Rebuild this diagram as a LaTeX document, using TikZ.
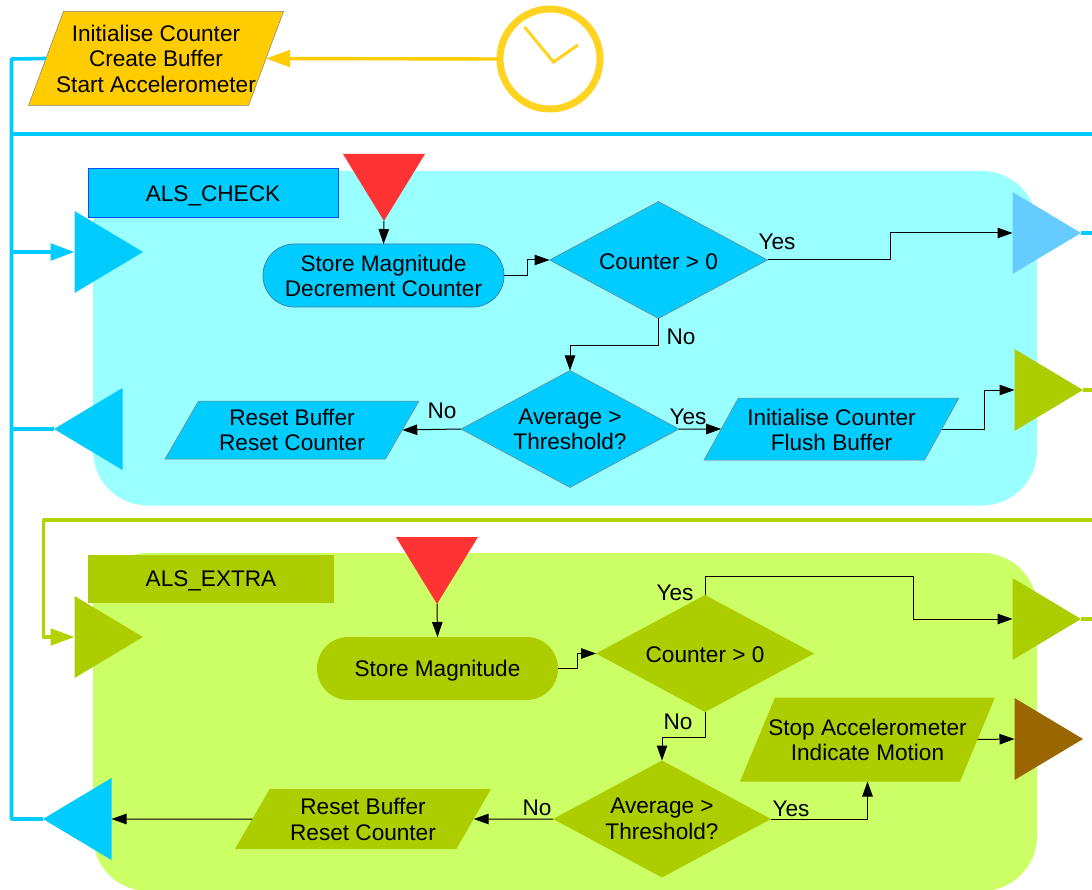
\documentclass[tikz,border=0pt]{standalone}
\usepackage{fontspec}
\setmainfont{Liberation Sans}
\usetikzlibrary{shapes.geometric,arrows.meta}
\definecolor{cblue}{HTML}{00CCFF}
\definecolor{cgreen}{HTML}{ACCE00}
\definecolor{cline}{HTML}{B4D200}
\definecolor{cgold}{HTML}{FFCC00}
\definecolor{cclock}{HTML}{FFD320}
\definecolor{cred}{HTML}{FF3333}
\definecolor{csky}{HTML}{99FFFF}
\definecolor{clime}{HTML}{CCFF66}
\definecolor{cpale}{HTML}{66CCFF}
\definecolor{cbrown}{HTML}{996600}
\definecolor{cpillline}{HTML}{3A7CA5}
\newcommand\tl[2][2pt]{\raisebox{-#1}[\height][\depth]{\begin{tabular}{@{}c@{}}#2\end{tabular}}}
\tikzset{
  x=1pt,y=-1pt,
  every node/.style={font=\fontsize{22.6}{25.4}\selectfont,inner sep=0pt,outer sep=0pt,align=center,text=black},
  region/.style={rounded corners=55pt},
  tri/.style={isosceles triangle,isosceles triangle stretches,minimum width=82pt,minimum height=68.5pt,anchor=apex},
  triR/.style={tri,shape border rotate=0},
  triL/.style={tri,shape border rotate=180},
  triD/.style={tri,shape border rotate=-90,minimum height=67pt,fill=cred},
  dec/.style={diamond,minimum width=218pt,minimum height=117pt,shape aspect=1.86},
  para/.style={trapezium,trapezium stretches body,trapezium left angle=#1,trapezium right angle=180-#1},
  para/.default=60,
  pill/.style={rectangle,rounded corners=31.4pt,minimum width=241pt,minimum height=63pt},
  flow/.style={draw=black,line width=1pt,-{Triangle[length=15pt,width=10.5pt]}},
  thickblue/.style={draw=cblue,line width=3.6pt},
  thickgreen/.style={draw=cline,line width=3.6pt},
  bighead/.style={-{Triangle[length=24pt,width=16.5pt]}},
  lab/.style={anchor=center}
}
\begin{document}
\begin{tikzpicture}
\useasboundingbox (0,0) rectangle (1092,890);
\begin{scope}
\clip (0,0) rectangle (1092,890);
\fill[csky,region] (93,171) rectangle (1037,505.5);
\fill[clime,region] (93,553) rectangle (1037,891);
\end{scope}

% start
\node[para=69.6,fill=cgold,draw=gray,line width=.5pt,inner ysep=8.9pt,minimum width=255pt,minimum height=94pt] (init) at (156,58.5) {\makebox[0pt]{\tl[3.3pt]{Initialise Counter\\Create Buffer\\Start Accelerometer}}};
\node[circle,draw=cclock,line width=7pt,minimum size=100pt] (clock) at (550,59) {};
\coordinate (h1) at (524.5,27);
\coordinate (h2) at (553.5,62);
\coordinate (h3) at (578,45);
\draw[cclock,line width=3pt] (h1) -- (h2) -- (h3);
\draw[draw=cgold,line width=3.4pt,bighead] (clock.west) -- (init.east);

% first region
\node[fill=cblue,draw=blue!70!cyan,line width=.5pt,minimum width=250pt,minimum height=49pt] (lab1) at (213,192.5) {\tl[3.5pt]{ALS\_CHECK}};
\node[triD] (red1) at (384,221) {};
\node[pill,fill=cblue,draw=cpillline,line width=.7pt] (store1) at (383.5,275.5) {\tl[3.5pt]{Store Magnitude\\Decrement Counter}};
\node[dec,fill=cblue,draw=gray,line width=.5pt] (c1) at (658.5,260) {\tl[4pt]{Counter > 0}};
\node[dec,fill=cblue,draw=gray,line width=.5pt] (a1) at (570,429) {\tl[3.2pt]{Average >\\Threshold?}};
\node[para=61,fill=cblue,draw=gray,line width=.5pt,inner ysep=5.6pt,minimum width=255pt,minimum height=62pt] (p1) at (831.5,429) {\makebox[0pt]{\tl[4pt]{Initialise Counter\\Flush Buffer}}};
\node[para=60,fill=cblue,draw=gray,line width=.5pt,inner ysep=3.6pt,minimum width=254pt,minimum height=58pt] (r1) at (292,430) {\makebox[0pt]{\tl[3pt]{Reset Buffer\\Reset Counter}}};
\node[triR,fill=cblue] (in1) at (143,252) {};
\node[triL,fill=cblue] (out1) at (54,429) {};
\node[triR,fill=cpale] (o1) at (1081,233) {};
\node[triR,fill=cgreen] (o2) at (1083,390) {};

\draw[flow] (red1.apex) -- (store1.north);
\draw[flow] (store1.east) -- ++(23,0) |- (c1.west);
\draw[flow] (c1.east) -- ++(123,0) |- (o1.west);
\draw[flow] (c1.south) -- ++(0,27) -| (a1.north);
\draw[flow] (a1.east) -- (p1.west);
\draw[flow] (a1.west) -- (r1.east);
\draw[flow] (p1.east) -- ++(43,0) |- (o2.west);
\node[lab] (y1) at (777,241.5) {Yes};
\node[lab] (n1) at (681,336.5) {No};
\node[lab] (y2) at (688,416.5) {Yes};
\node[lab] (n2) at (442,411) {No};

% second region
\node[fill=cgreen,minimum width=246pt,minimum height=48pt] (lab2) at (211,579) {\tl[2.3pt]{ALS\_EXTRA}};
\node[triD] (red2) at (437,604) {};
\node[pill,fill=cgreen] (store2) at (437.5,668.5) {\tl[3pt]{Store Magnitude}};
\node[dec,fill=cgreen] (c2) at (705,653.5) {\tl[4pt]{Counter > 0}};
\node[dec,fill=cgreen] (a2) at (662,819) {\tl[2.5pt]{Average >\\Threshold?}};
\node[para=67.4,fill=cgreen,inner ysep=16.6pt,minimum width=255pt,minimum height=84pt] (p2) at (867.5,739.5) {\makebox[0pt]{\tl[3.6pt]{Stop Accelerometer\\Indicate Motion}}};
\node[para=60,fill=cgreen,inner ysep=4.6pt,minimum width=256pt,minimum height=60pt] (r2) at (363,819) {\makebox[0pt]{\tl[3.3pt]{Reset Buffer\\Reset Counter}}};
\node[triR,fill=cgreen] (in2) at (143,637) {};
\node[triL,fill=cblue] (out2) at (43,819) {};
\node[triR,fill=cgreen] (o3) at (1081,619) {};
\node[triR,fill=cbrown] (o4) at (1083,739) {};

\draw[flow] (red2.apex) -- (store2.north);
\draw[flow] (store2.east) -- ++(19,0) |- (c2.west);
\draw[flow] (c2.north) -- ++(0,-19) -- ++(208,0) |- (o3.west);
\draw[flow] (c2.south) -- ++(0,25) -| (a2.north);
\draw[flow] (a2.east) -| (p2.south);
\draw[flow] (a2.west) -- (r2.east);
\draw[flow] (p2.east) -- (o4.west);
\draw[flow] (r2.west) -- (out2.east);
\node[lab] (y3) at (675,592.5) {Yes};
\node[lab] (n3) at (678,722) {No};
\node[lab] (y4) at (791,808.5) {Yes};
\node[lab] (n4) at (537,808) {No};

% thick lines
\coordinate (cr) at (11.5,59);
\coordinate (cb) at (11.5,819);
\coordinate (c134) at (11.5,134);
\coordinate (e134) at (1092,134);
\coordinate (c252) at (11.5,252);
\coordinate (c429) at (11.5,429);
\draw[thickblue,line join=round] (init.west) -- (cr) -- (cb) -- (out2.apex);
\draw[thickblue] (c134) -- (e134);
\draw[thickblue,bighead] (c252) -- (in1.west);
\draw[thickblue] (c429) -- (out1.apex);
\coordinate (e1) at (1092,233);
\coordinate (e2) at (1092,390);
\coordinate (e3) at (1092,619);
\coordinate (gt) at (1092,520);
\coordinate (g1) at (43.5,520);
\coordinate (g2) at (43.5,637);
\draw[thickblue] (o1.apex) -- (e1);
\draw[thickgreen] (o2.apex) -- (e2);
\draw[thickgreen] (o3.apex) -- (e3);
\draw[thickgreen,line join=round,bighead] (gt) -- (g1) -- (g2) -- (in2.west);
\end{tikzpicture}
\end{document}
